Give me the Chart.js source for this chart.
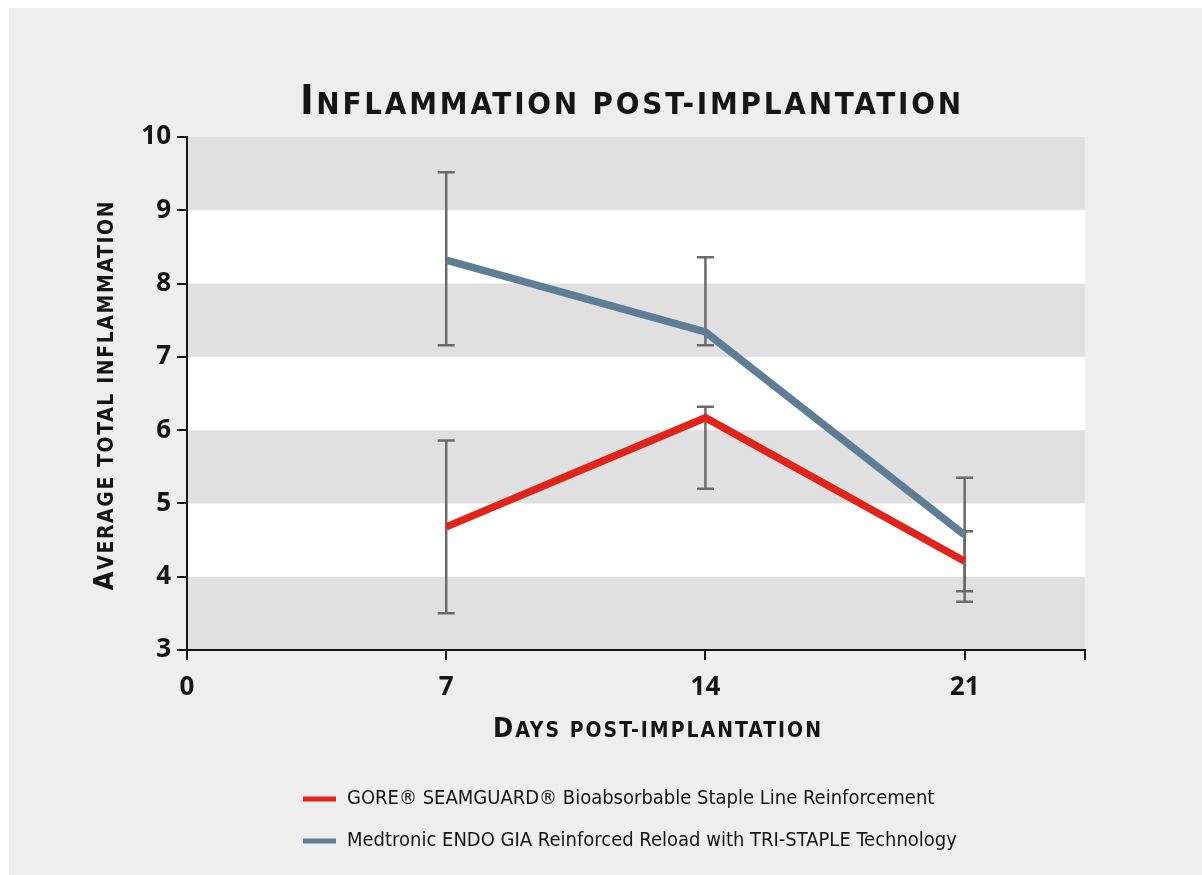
<!DOCTYPE html>
<html>
<head>
<meta charset="utf-8">
<title>Inflammation post-implantation</title>
<script src="https://cdn.jsdelivr.net/npm/chart.js@4/dist/chart.umd.min.js"></script>
<style>
  html, body { margin: 0; padding: 0; background: #fff; }
  #chart { display: block; }
</style>
</head>
<body>
<canvas id="chart" width="1202" height="875"></canvas>
<script>
const RED = "#e2231a";
const BLUE = "#5e7e96";
const BAR = "#6b6b6b";
const INK = "#151515";

// data
const days = [7, 14, 21];
const xTicks = [0, 7, 14, 21, 24.25];
const goreMean = [4.68, 6.17, 4.21];
const goreLow = [3.5, 5.2, 3.66];
const goreHigh = [5.86, 6.32, 4.62];
const medMean = [8.32, 7.34, 4.57];
const medLow = [7.16, 7.16, 3.8];
const medHigh = [9.52, 8.36, 5.35];
const grayBands = [[3, 4], [5, 6], [7, 8], [9, 10]];

const seriesNames = [
  "GORE® SEAMGUARD® Bioabsorbable Staple Line Reinforcement",
  "Medtronic ENDO GIA Reinforced Reload with TRI-STAPLE Technology",
];

const TITLE_FONT = '"DejaVu Sans Condensed", sans-serif';
const TEXT_FONT = '"DejaVu Sans Condensed", sans-serif';
const TICK_FONT = '"Open Sans", "Noto Sans", sans-serif';

const toPoints = (xs, ys) => xs.map((x, i) => ({ x, y: ys[i] }));

// small caps by hand: capitals at full size, the rest upper-cased smaller
function smallCapsRuns(text, big, small) {
  const runs = [];
  for (const ch of text) {
    const isCap = ch !== ch.toLowerCase();
    const size = isCap ? big : small;
    const last = runs[runs.length - 1];
    if (last && last.size === size) last.text += ch.toUpperCase();
    else runs.push({ text: ch.toUpperCase(), size });
  }
  return runs;
}

function drawSmallCaps(ctx, text, x, y, opt) {
  const runs = smallCapsRuns(text, opt.big, opt.small);
  ctx.save();
  ctx.fillStyle = INK;
  ctx.textBaseline = "alphabetic";
  ctx.textAlign = "left";
  if (opt.spacing) ctx.letterSpacing = opt.spacing + "px";
  let total = 0;
  runs.forEach((r) => {
    ctx.font = `${opt.weight} ${r.size}px ${opt.family}`;
    r.w = ctx.measureText(r.text).width;
    total += r.w;
  });
  let cx = x - total / 2;
  runs.forEach((r) => {
    ctx.font = `${opt.weight} ${r.size}px ${opt.family}`;
    ctx.fillText(r.text, cx, y);
    cx += r.w;
  });
  ctx.restore();
}

const decor = {
  id: "decor",
  beforeDraw(chart) {
    const { ctx, chartArea: a, scales } = chart;
    ctx.save();
    ctx.fillStyle = "#eeeeee";
    ctx.fillRect(9, 8, chart.width - 9, chart.height - 8);
    ctx.fillStyle = "#ffffff";
    ctx.fillRect(a.left, a.top, a.right - a.left, a.bottom - a.top);
    ctx.fillStyle = "#e0e0e0";
    grayBands.forEach(([lo, hi]) => {
      const y1 = scales.y.getPixelForValue(hi);
      const y2 = scales.y.getPixelForValue(lo);
      ctx.fillRect(a.left, y1, a.right - a.left, y2 - y1);
    });
    ctx.restore();
  },
  beforeDatasetsDraw(chart) {
    const { ctx, scales } = chart;
    const bars = [
      [goreLow, goreHigh],
      [medLow, medHigh],
    ];
    ctx.save();
    ctx.strokeStyle = BAR;
    ctx.lineWidth = 2.5;
    bars.forEach(([lows, highs]) => {
      days.forEach((d, i) => {
        const x = scales.x.getPixelForValue(d);
        const yl = scales.y.getPixelForValue(lows[i]);
        const yh = scales.y.getPixelForValue(highs[i]);
        ctx.beginPath();
        ctx.moveTo(x, yl);
        ctx.lineTo(x, yh);
        ctx.moveTo(x - 8.5, yl);
        ctx.lineTo(x + 8.5, yl);
        ctx.moveTo(x - 8.5, yh);
        ctx.lineTo(x + 8.5, yh);
        ctx.stroke();
      });
    });
    ctx.restore();
  },
  afterDraw(chart) {
    const ctx = chart.ctx;
    drawSmallCaps(ctx, "Inflammation post-implantation", 632, 114, {
      big: 40, small: 31, weight: "bold", family: TITLE_FONT, spacing: 2.8,
    });
    drawSmallCaps(ctx, "Days post-implantation", 658, 737, {
      big: 27, small: 21, weight: "bold", family: TITLE_FONT, spacing: 2,
    });
    ctx.save();
    ctx.translate(113, 395);
    ctx.rotate(-Math.PI / 2);
    drawSmallCaps(ctx, "Average total inflammation", 0, 0, {
      big: 27, small: 21, weight: "bold", family: TITLE_FONT, spacing: 1.6,
    });
    ctx.restore();

    // legend
    ctx.save();
    chart.data.datasets.forEach((ds, i) => {
      const y = 799 + i * 42;
      ctx.fillStyle = ds.borderColor;
      ctx.fillRect(303, y - 2.5, 33, 5);
      ctx.fillStyle = INK;
      ctx.font = `20px ${TEXT_FONT}`;
      ctx.textBaseline = "middle";
      ctx.fillText(ds.label, 347, y);
    });
    ctx.restore();
  },
};

new Chart(document.getElementById("chart"), {
  type: "line",
  data: {
    datasets: [
      {
        label: seriesNames[0],
        data: toPoints(days, goreMean),
        borderColor: RED,
        borderWidth: 7.5,
        pointRadius: 0,
        tension: 0,
      },
      {
        label: seriesNames[1],
        data: toPoints(days, medMean),
        borderColor: BLUE,
        borderWidth: 7.5,
        pointRadius: 0,
        tension: 0,
      },
    ],
  },
  options: {
    responsive: false,
    animation: false,
    layout: { padding: { left: 0, top: 137, right: 117, bottom: 175 } },
    plugins: {
      legend: { display: false },
      tooltip: { enabled: false },
    },
    scales: {
      x: {
        type: "linear",
        min: 0,
        max: 24.25,
        afterBuildTicks: (s) => { s.ticks = xTicks.map((v) => ({ value: v })); },
        afterFit: (s) => { s.height = 50; },
        ticks: {
          color: INK,
          padding: 12,
          font: { family: TICK_FONT, size: 26, weight: 700 },
          callback: (v) => (days.includes(v) || v === 0 ? String(v) : ""),
        },
        grid: { drawOnChartArea: false, drawTicks: true, tickLength: 10, color: INK, lineWidth: 2 },
        border: { color: INK, width: 2 },
      },
      y: {
        min: 3,
        max: 10,
        afterFit: (s) => { s.width = 187; },
        ticks: {
          stepSize: 1,
          color: INK,
          padding: 6,
          font: { family: TICK_FONT, size: 26, weight: 700 },
        },
        grid: { drawOnChartArea: false, drawTicks: true, tickLength: 10, color: INK, lineWidth: 2 },
        border: { color: INK, width: 2 },
      },
    },
  },
  plugins: [decor],
});
</script>
</body>
</html>
